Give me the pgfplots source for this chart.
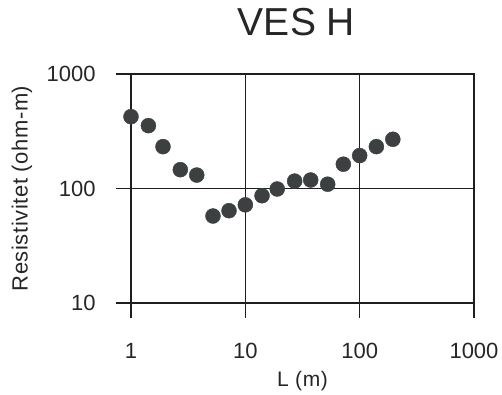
\documentclass[border=0pt]{standalone}
\usepackage{pgfplots}
\pgfplotsset{compat=1.18}
\usepackage{fontspec}
\setmainfont{Liberation Sans}
\newfontfamily\spacedfont[LetterSpace=2.5]{Liberation Sans}
\definecolor{dotgray}{HTML}{3C4040}
\definecolor{linegray}{HTML}{1E1E1E}
\begin{document}
\begin{tikzpicture}
\path[use as bounding box] (-131pt,-92pt) rectangle (371pt,303pt);
\begin{axis}[
  at={(0,0)}, anchor=south west,
  scale only axis, width=343pt, height=229pt,
  xmode=log, ymode=log,
  xmin=1, xmax=1000, ymin=10, ymax=1000,
  xtick={1,10,100,1000}, xticklabels={1,10,100,1000},
  ytick={10,100,1000}, yticklabels={10,100,1000},
  xminorticks=false, yminorticks=false,
  /pgf/number format/assume math mode=true,
  tick align=outside, major tick length=15pt,
  xtick pos=left, ytick pos=left,
  grid=major,
  major grid style={linegray, line width=1.5pt},
  axis line style={linegray, line width=1.5pt},
  tick style={linegray, line width=1.5pt},
  ticklabel style={font=\fontsize{22}{26}\selectfont, text=black!85},
  xticklabel style={yshift=-22pt},
  yticklabel style={xshift=-17pt},
  title={VES H},
  title style={font=\fontsize{39}{44}\selectfont, text=black!85, at={(axis description cs:0.5,1)}, anchor=center, yshift=46pt, xshift=-6pt},
  xlabel={L (m)},
  xlabel style={font=\spacedfont\fontsize{21}{25}\selectfont, text=black!85, at={(axis description cs:0.5,-0.34)}, anchor=center},
  ylabel={Resistivitet (ohm-m)},
  ylabel style={font=\spacedfont\fontsize{22}{26}\selectfont, text=black!85, at={(axis description cs:-0.318,0.5)}, anchor=center, rotate=0},
  clip=false,
]
\addplot[only marks, mark=*, mark size=7.5pt, mark options={fill=dotgray, draw=dotgray}] coordinates {
(1,424) (1.42,354) (1.905,232) (2.70,146) (3.76,131)
(5.21,57.5) (7.2,64) (10,72) (14,86.5) (19,99)
(27,116) (37.3,118.6) (52.5,109) (72,163) (100,194)
(140,232) (195,269)
};
\end{axis}
\end{tikzpicture}
\end{document}
